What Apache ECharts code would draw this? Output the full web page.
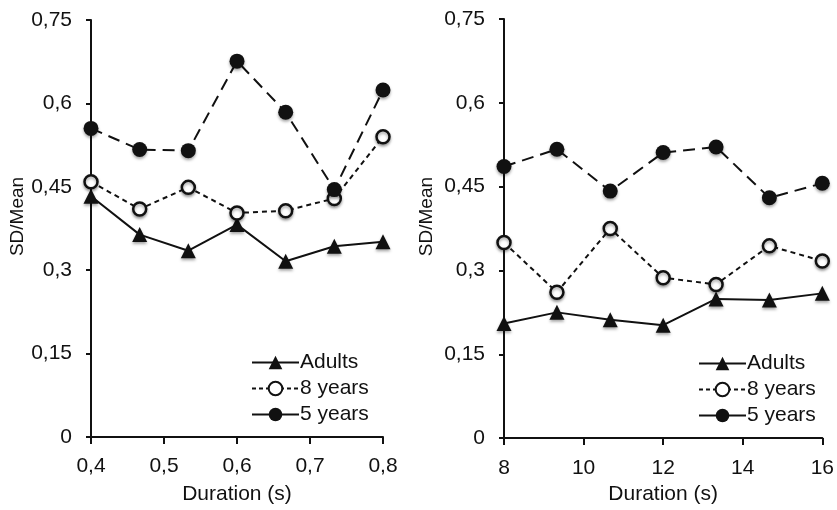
<!DOCTYPE html>
<html>
<head>
<meta charset="utf-8">
<script src="https://cdn.jsdelivr.net/npm/echarts@6/dist/echarts.min.js"></script>
<style>html,body{margin:0;padding:0;background:#fff}#c{width:837px;height:510px}</style>
</head>
<body>
<div id="c"></div>
<script>
// Left panel (short durations, s)
var xLeft = [0.4, 0.4667, 0.5333, 0.6, 0.6667, 0.7333, 0.8];
var adultsLeft = [0.433, 0.364, 0.335, 0.382, 0.316, 0.343, 0.351];
var eightLeft = [0.459, 0.410, 0.449, 0.403, 0.407, 0.429, 0.540];
var fiveLeft = [0.555, 0.517, 0.515, 0.676, 0.584, 0.445, 0.624];
// Right panel (long durations, s)
var xRight = [8, 9.33, 10.67, 12, 13.33, 14.67, 16];
var adultsRight = [0.205, 0.225, 0.212, 0.202, 0.249, 0.247, 0.259];
var eightRight = [0.350, 0.261, 0.375, 0.287, 0.275, 0.344, 0.317];
var fiveRight = [0.486, 0.517, 0.442, 0.511, 0.521, 0.430, 0.456];
var seriesNames = ['Adults', '8 years', '5 years'];
var yTicks = {min: 0, max: 0.75, interval: 0.15};

var ink = '#111';
var font = 'Liberation Sans, Arial, Helvetica, sans-serif';
function pairs(xs, ys) { return xs.map(function (x, i) { return [x, ys[i]]; }); }
function comma(v, d) { return String(+v.toFixed(d)).replace('.', ','); }

function xAxis(idx, min, max, interval, dec) {
  return {
    type: 'value', gridIndex: idx, min: min, max: max, interval: interval,
    name: 'Duration (s)', nameLocation: 'middle', nameGap: idx === 0 ? 47 : 40,
    nameTextStyle: {fontFamily: font, fontSize: 21, color: ink},
    splitLine: {show: false},
    axisLine: {lineStyle: {color: ink, width: 2}},
    axisTick: {length: 7, lineStyle: {color: ink, width: 2}},
    axisLabel: {fontFamily: font, fontSize: 21, color: ink, margin: idx === 0 ? 19 : 20,
      formatter: function (v) { return comma(v, dec); }}
  };
}
function yAxis(idx) {
  return {
    type: 'value', gridIndex: idx, min: yTicks.min, max: yTicks.max, interval: yTicks.interval,
    name: 'SD/Mean', nameLocation: 'middle', nameGap: idx === 0 ? 62 : 68,
    nameTextStyle: {fontFamily: font, fontSize: 19, color: ink, padding: [0, 0, 0, 24]},
    splitLine: {show: false},
    axisLine: {show: true, lineStyle: {color: ink, width: 2}},
    axisTick: {show: true, length: 5, lineStyle: {color: ink, width: 2}},
    axisLabel: {fontFamily: font, fontSize: 21, color: ink, margin: 19,
      formatter: function (v) { return comma(v, 2); }}
  };
}
var shadow = {shadowBlur: 3, shadowColor: 'rgba(0,0,0,0.35)', shadowOffsetY: 2};
function mkSeries(idx, xs, a, e, f) {
  return [
    {name: 'Adults', type: 'line', xAxisIndex: idx, yAxisIndex: idx, data: pairs(xs, a),
      symbol: 'triangle', symbolSize: 15, clip: false, z: 3,
      lineStyle: {color: ink, width: 2},
      itemStyle: Object.assign({color: ink, borderColor: ink, borderWidth: 0}, shadow)},
    {name: '8 years', type: 'line', xAxisIndex: idx, yAxisIndex: idx, data: pairs(xs, e),
      symbol: 'circle', symbolSize: 13, clip: false, z: 4,
      lineStyle: {color: ink, width: 2, type: [5, 4]},
      itemStyle: Object.assign({color: '#fff', borderColor: ink, borderWidth: 2.5}, shadow)},
    {name: '5 years', type: 'line', xAxisIndex: idx, yAxisIndex: idx, data: pairs(xs, f),
      symbol: 'circle', symbolSize: 15, clip: false, z: 5,
      lineStyle: {color: ink, width: 2, type: [12, 7]},
      itemStyle: Object.assign({color: ink, borderColor: ink, borderWidth: 0}, shadow)}
  ];
}
function legend(left, top) {
  return {
    orient: 'vertical', left: left, top: top, itemWidth: 47, itemHeight: 17, itemGap: 5,
    selectedMode: false,
    textStyle: {fontFamily: font, fontSize: 21, color: ink, padding: [0, 0, 0, -4]},
    data: [
      {name: seriesNames[0], lineStyle: {type: 'solid'}},
      {name: seriesNames[1], lineStyle: {type: [4, 3]}, itemStyle: {shadowBlur: 0}},
      {name: seriesNames[2], lineStyle: {type: 'solid'}}
    ]
  };
}

var chart = echarts.init(document.getElementById('c'), null, {renderer: 'canvas'});
chart.setOption({
  backgroundColor: '#fff',
  animation: false,
  grid: [
    {left: 91, top: 20, width: 292, height: 421},
    {left: 504, top: 19, width: 325, height: 424}
  ],
  xAxis: [xAxis(0, 0.4, 0.8, 0.1, 1), xAxis(1, 8, 16, 2, 0)],
  yAxis: [yAxis(0), yAxis(1)],
  legend: [legend(246, 347), legend(693, 348)],
  series: mkSeries(0, xLeft, adultsLeft, eightLeft, fiveLeft)
    .concat(mkSeries(1, xRight, adultsRight, eightRight, fiveRight))
});
</script>
</body>
</html>
